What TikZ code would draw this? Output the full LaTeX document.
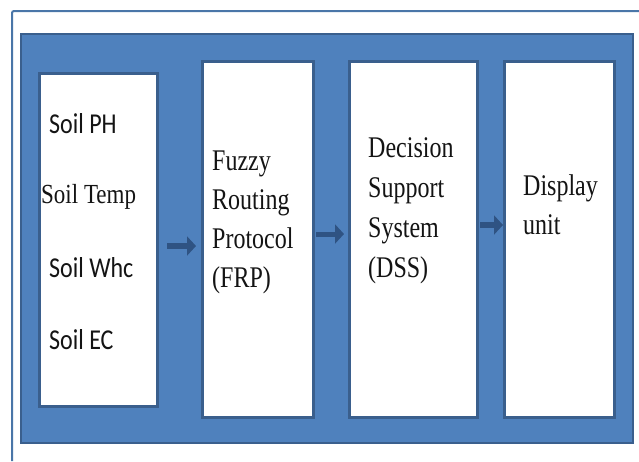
\documentclass[tikz,border=0pt]{standalone}
\usepackage{fontspec}
\setmainfont{Liberation Serif}
\newfontfamily\calib{Carlito}
\usetikzlibrary{arrows.meta}
\definecolor{panelblue}{HTML}{4F81BD}
\definecolor{edgeblue}{HTML}{3A5F8D}
\definecolor{framblue}{HTML}{4A76A8}
\definecolor{arrowblue}{HTML}{2F5383}
\definecolor{ink}{HTML}{141414}
\newcommand{\stretchtext}[2]{\scalebox{1}[1.25]{\fontsize{24}{#1}\selectfont\begin{tabular}[t]{@{}l@{}}#2\end{tabular}}}
\begin{document}
\begin{tikzpicture}[x=1pt,y=-1pt,
  frameline/.style={draw=framblue,line width=2pt,rounded corners=2pt},
  panel/.style={draw=edgeblue,line width=2.5pt,fill=panelblue,anchor=north west,inner sep=0pt,outer sep=0pt},
  stage/.style={draw=edgeblue,line width=3pt,fill=white,anchor=north west,inner sep=0pt,outer sep=0pt},
  label/.style={anchor=base west,inner sep=0pt,text=ink},
  flow/.style={draw=arrowblue,line width=6.5pt,-{Triangle[length=9pt,width=19pt]}}]
\useasboundingbox (0,0) rectangle (639,461);
% outer page frame
\draw[frameline] (12,461) -- (12,11) -- (639,11);
% blue panel holding the stages
\node[panel,minimum width=612pt,minimum height=409pt] (panel) at (21,34) {};
% the four stages
\node[stage,minimum width=118pt,minimum height=333pt] (sensors) at (39,73) {};
\node[stage,minimum width=111pt,minimum height=356pt] (frp) at (202,61) {};
\node[stage,minimum width=128pt,minimum height=356pt] (dss) at (349,61) {};
\node[stage,minimum width=110pt,minimum height=356pt] (disp) at (504,61) {};
% sensor readings
\node[label] (ph) at (49,133) {\scalebox{1}[1.2]{\calib\fontsize{24}{28}\selectfont Soil PH}};
\node[label] (temp) at (41,203) {\scalebox{1}[1.2]{\fontsize{23}{28}\selectfont Soil Temp}};
\node[label] (whc) at (49,277) {\scalebox{1}[1.2]{\calib\fontsize{24}{28}\selectfont Soil Whc}};
\node[label] (ec) at (49,349) {\scalebox{1}[1.2]{\calib\fontsize{24}{28}\selectfont Soil EC}};
% stage captions
\node[label] (frptext) at (212,170) {\stretchtext{31.2}{Fuzzy\\Routing\\Protocol\\(FRP)}};
\node[label] (dsstext) at (368,157) {\stretchtext{32}{Decision\\Support\\System\\(DSS)}};
\node[label] (disptext) at (523,195) {\stretchtext{31.2}{Display\\unit}};
% data flow between stages
\draw[flow,shorten <=10pt,shorten >=6pt] ([yshift=-6.5pt]sensors.east) -- ([yshift=-6.5pt]sensors.east -| frp.west);
\draw[flow,line width=5pt,shorten <=3pt,shorten >=5pt] ([yshift=5pt]frp.east) -- ([yshift=5pt]frp.east -| dss.west);
\draw[flow,line width=5.5pt,shorten <=3pt,shorten >=1pt] ([yshift=14pt]dss.east) -- ([yshift=14pt]dss.east -| disp.west);
\end{tikzpicture}
\end{document}
